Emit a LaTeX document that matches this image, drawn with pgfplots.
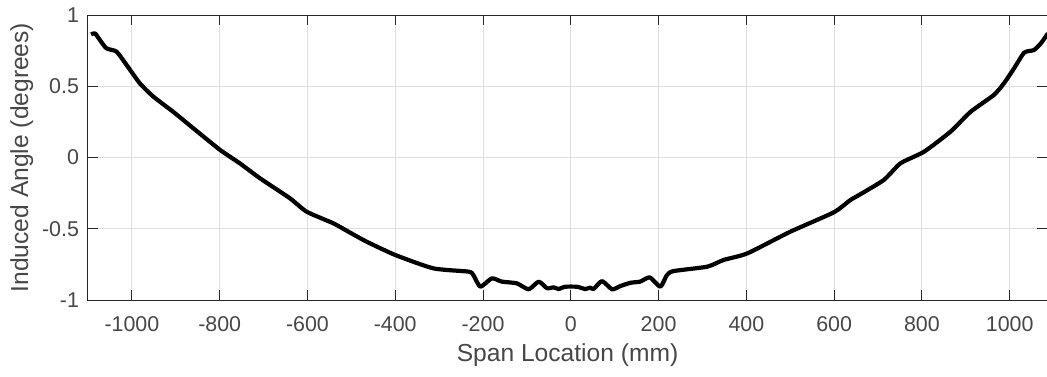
\documentclass[border=0pt]{standalone}
\usepackage{pgfplots}
\pgfplotsset{compat=1.18}
\usepackage{fontspec}
\setmainfont{Liberation Sans}
\definecolor{axgray}{RGB}{38,38,38}
\definecolor{gridgray}{RGB}{223,223,223}
\begin{document}
\begin{tikzpicture}
\useasboundingbox (-44pt,-38pt) rectangle (479.5pt,150pt);
\begin{axis}[
  scale only axis,
  width=479.5pt, height=142.5pt,
  xmin=-1100, xmax=1085, ymin=-1, ymax=1,
  xtick={-1000,-800,...,1000},
  ytick={-1,-0.5,0,0.5,1},
  /pgf/number format/assume math mode=true,
  /pgf/number format/1000 sep={},
  tick align=inside,
  major tick length=5pt,
  tick style={axgray, line width=0.5pt},
  axis line style={axgray, line width=0.5pt},
  grid=major,
  major grid style={gridgray, line width=0.5pt},
  ticklabel style={font=\fontsize{10.7}{12}\selectfont, text=axgray!85},
  xticklabel style={yshift=-4.5pt},
  yticklabel style={xshift=-1pt},
  xlabel={Span Location (mm)},
  ylabel={Induced Angle (degrees)},
  label style={font=\fontsize{12.3}{14}\selectfont, text=axgray!85},
  xlabel style={at={(axis description cs:0.5,-0.193)}, anchor=center},
  ylabel style={at={(axis description cs:-0.069,0.5)}, anchor=center},
]
\addplot[black, line width=2.1pt, line join=round, smooth, tension=0.35] coordinates {
(-1093,0.864) (-1084,0.871) (-1073,0.825) (-1058,0.766) (-1035,0.743)
(-1012,0.649) (-982,0.521) (-951,0.427) (-906,0.321) (-860,0.205)
(-799,0.053) (-754,-0.041) (-708,-0.146) (-640,-0.286) (-602,-0.380)
(-541,-0.462) (-503,-0.527) (-465,-0.591) (-400,-0.684) (-313,-0.778)
(-233,-0.801) (-222,-0.825) (-206,-0.907) (-180,-0.848) (-157,-0.871)
(-123,-0.883) (-96,-0.925) (-73,-0.871) (-54,-0.918) (-39,-0.911)
(-28,-0.923) (-13,-0.907) (14,-0.907) (33,-0.923) (44,-0.913)
(52,-0.923) (71,-0.867) (94,-0.925) (113,-0.902) (136,-0.879)
(158,-0.871) (180,-0.841) (204,-0.907) (219,-0.825) (234,-0.797)
(311,-0.766) (348,-0.719) (402,-0.673) (500,-0.521) (599,-0.385)
(637,-0.298) (653,-0.270) (713,-0.158) (751,-0.041) (805,0.041)
(865,0.181) (911,0.321) (964,0.439) (987,0.521) (1010,0.626)
(1033,0.736) (1055,0.754) (1071,0.801) (1087,0.871)
};
\end{axis}
\end{tikzpicture}
\end{document}
